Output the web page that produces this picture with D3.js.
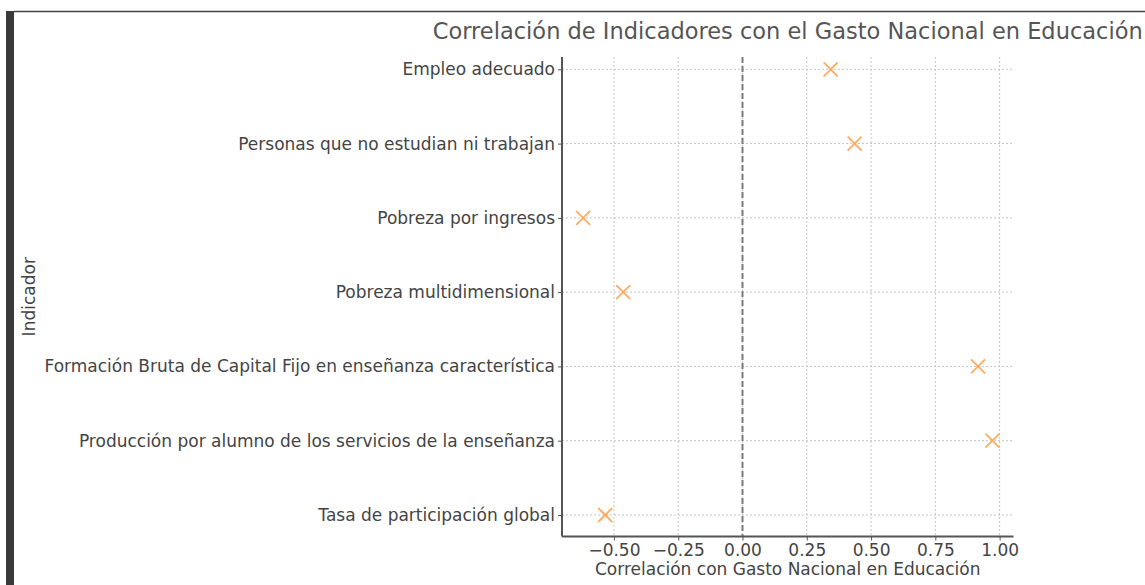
<!DOCTYPE html>
<html>
<head>
<meta charset="utf-8">
<script src="https://cdn.jsdelivr.net/npm/d3@7"></script>
<style>
  body { margin: 0; background: #fff; }
  svg { display: block; font-family: "DejaVu Sans", sans-serif; }
</style>
</head>
<body>
<svg width="1145" height="585"></svg>
<script>
// indicators, top to bottom
var indicators = [
    "Empleo adecuado",
    "Personas que no estudian ni trabajan",
    "Pobreza por ingresos",
    "Pobreza multidimensional",
    "Formación Bruta de Capital Fijo en enseñanza característica",
    "Producción por alumno de los servicios de la enseñanza",
    "Tasa de participación global"
];
var correlations = [0.343, 0.436, -0.62, -0.464, 0.916, 0.972, -0.534];
var xTicks = [-0.5, -0.25, 0, 0.25, 0.5, 0.75, 1.0];

var title = "Correlación de Indicadores con el Gasto Nacional en Educación";
var xLabel = "Correlación con Gasto Nacional en Educación";
var yLabel = "Indicador";

var svg = d3.select("svg");

// screenshot frame: dark bar on the left, thin line on top
svg.append("rect").attr("x", 6).attr("y", 11).attr("width", 8).attr("height", 574).attr("fill", "#3a3a3a");
svg.append("line").attr("x1", 14).attr("x2", 1145).attr("y1", 11.5).attr("y2", 11.5)
    .attr("stroke", "#444").attr("stroke-width", 1.5);

var plotL = 562, plotR = 1013.5, plotT = 57, plotB = 536.5;

var x = d3.scaleLinear().domain([-0.702, 1.054]).range([plotL, plotR]);
var y = d3.scalePoint().domain(indicators).range([69.3, 515]);

var g = svg.append("g");

// vertical grid
g.append("g").selectAll("line")
    .data(xTicks).enter().append("line")
    .attr("x1", function(d) { return x(d); })
    .attr("x2", function(d) { return x(d); })
    .attr("y1", plotT).attr("y2", plotB)
    .attr("stroke", "#c4c4c4").attr("stroke-width", 1)
    .attr("stroke-dasharray", "2,2");

// horizontal grid
g.append("g").selectAll("line")
    .data(indicators).enter().append("line")
    .attr("x1", plotL).attr("x2", plotR)
    .attr("y1", function(d) { return y(d); })
    .attr("y2", function(d) { return y(d); })
    .attr("stroke", "#c4c4c4").attr("stroke-width", 1)
    .attr("stroke-dasharray", "2,2");

// zero reference line
g.append("line")
    .attr("x1", x(0)).attr("x2", x(0))
    .attr("y1", plotT).attr("y2", plotB)
    .attr("stroke", "#7a7a7a").attr("stroke-width", 2)
    .attr("stroke-dasharray", "6,3");

// x axis
var xAxis = g.append("g")
    .attr("transform", "translate(0," + plotB + ")")
    .call(d3.axisBottom(x).tickValues(xTicks).tickSize(4).tickPadding(3)
        .tickFormat(function(d) { return d3.format(".2f")(d).replace("-", "\u2212"); }));
xAxis.select(".domain").attr("d", "M" + plotL + ",0H" + plotR).attr("stroke", "#555").attr("stroke-width", 2);
xAxis.selectAll(".tick line").attr("stroke", "#555").attr("stroke-width", 1);
xAxis.selectAll(".tick text").attr("fill", "#444").attr("font-size", 17)
    .attr("font-family", "DejaVu Sans, sans-serif");

// y axis
var yAxis = g.append("g")
    .attr("transform", "translate(" + plotL + ",0)")
    .call(d3.axisLeft(y).tickSize(4).tickPadding(3));
yAxis.select(".domain").attr("d", "M0," + plotT + "V" + plotB).attr("stroke", "#555").attr("stroke-width", 2);
yAxis.selectAll(".tick line").attr("stroke", "#555").attr("stroke-width", 1);
yAxis.selectAll(".tick text").attr("fill", "#444").attr("font-size", 17)
    .attr("font-family", "DejaVu Sans, sans-serif");

// x markers
var s = 7;
g.append("g").selectAll("path")
    .data(indicators).enter().append("path")
    .attr("d", function(d, i) {
        var cx = x(correlations[i]), cy = y(d);
        return "M" + (cx - s) + "," + (cy - s) + "L" + (cx + s) + "," + (cy + s) +
               "M" + (cx - s) + "," + (cy + s) + "L" + (cx + s) + "," + (cy - s);
    })
    .attr("stroke", "#ff9d45").attr("stroke-opacity", 0.85)
    .attr("stroke-width", 1.8).attr("fill", "none");

// title + labels
svg.append("text")
    .attr("x", (plotL + plotR) / 2).attr("y", 39)
    .attr("text-anchor", "middle").attr("font-size", 22.5).attr("fill", "#555")
    .text(title);

svg.append("text")
    .attr("x", (plotL + plotR) / 2).attr("y", 575)
    .attr("text-anchor", "middle").attr("font-size", 17).attr("fill", "#444")
    .text(xLabel);

svg.append("text")
    .attr("transform", "translate(35," + ((plotT + plotB) / 2) + ") rotate(-90)")
    .attr("text-anchor", "middle").attr("font-size", 17).attr("fill", "#444")
    .text(yLabel);
</script>
</body>
</html>
